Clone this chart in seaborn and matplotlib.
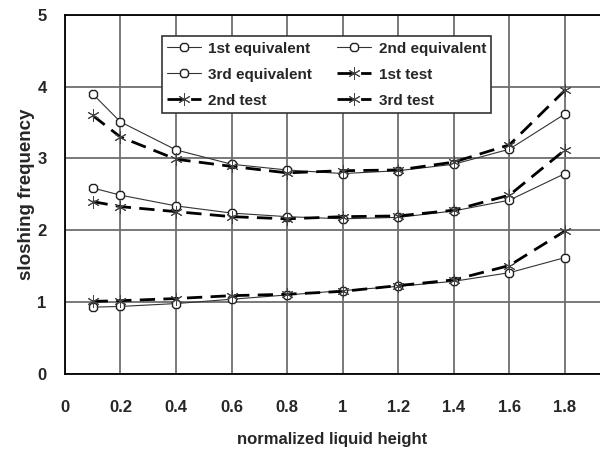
import matplotlib
matplotlib.use("Agg")
import matplotlib.pyplot as plt
import seaborn as sns
import pandas as pd

heights = [0.1, 0.2, 0.4, 0.6, 0.8, 1.0, 1.2, 1.4, 1.6, 1.8]
eq1 = [0.93, 0.94, 0.98, 1.04, 1.10, 1.16, 1.22, 1.29, 1.41, 1.62]
eq2 = [2.59, 2.49, 2.34, 2.24, 2.19, 2.16, 2.18, 2.27, 2.42, 2.79]
eq3 = [3.90, 3.51, 3.12, 2.92, 2.84, 2.79, 2.83, 2.92, 3.13, 3.62]
test1 = [1.01, 1.02, 1.05, 1.09, 1.11, 1.15, 1.23, 1.31, 1.51, 1.99]
test2 = [2.40, 2.33, 2.26, 2.19, 2.16, 2.19, 2.20, 2.28, 2.49, 3.12]
test3 = [3.60, 3.30, 2.99, 2.89, 2.80, 2.83, 2.84, 2.95, 3.19, 3.95]
xticks = [0, 0.2, 0.4, 0.6, 0.8, 1, 1.2, 1.4, 1.6, 1.8]
xticklabels = ["0", "0.2", "0.4", "0.6", "0.8", "1", "1.2", "1.4", "1.6", "1.8"]
yticks = [0, 1, 2, 3, 4, 5]

sns.set_style("white")
plt.rcParams['font.family'] = ['Liberation Sans', 'DejaVu Sans']
plt.rcParams['font.weight'] = 'bold'

fig = plt.figure(figsize=(6, 4.5), dpi=100)
ax = fig.add_axes([0.108, 0.169, 0.892, 0.798])

series = [
    ("1st equivalent", eq1, "eq"),
    ("2nd equivalent", eq2, "eq"),
    ("3rd equivalent", eq3, "eq"),
    ("1st test", test1, "test"),
    ("2nd test", test2, "test"),
    ("3rd test", test3, "test"),
]
handles = {}
for name, vals, kind in series:
    df = pd.DataFrame({"h": heights, "f": vals})
    if kind == "eq":
        sns.lineplot(data=df, x="h", y="f", ax=ax, color="#333333", lw=0.8,
                     marker="8", markersize=6, markerfacecolor="white",
                     markeredgecolor="#222222", markeredgewidth=1.0, label=name, zorder=4)
    else:
        sns.lineplot(data=df, x="h", y="f", ax=ax, color="black", lw=2.0,
                     dashes=False, marker=(6, 2, 0), markersize=9,
                     markeredgecolor="#444444", markeredgewidth=0.7, label=name, zorder=5)
        ax.get_lines()[-1].set_dashes([5.5, 3])
    handles[name] = ax.get_lines()[-1]

ax.set_xlim(0, 1.926)
ax.set_ylim(0, 5)
ax.set_xticks(xticks)
ax.set_xticklabels(xticklabels)
ax.set_yticks(yticks)
ax.tick_params(axis='both', labelsize=12, length=5, width=1.0, color='#555555', direction='out')
for lab in ax.get_xticklabels() + ax.get_yticklabels():
    lab.set_fontweight('bold')
ax.tick_params(axis='x', pad=14)
ax.tick_params(axis='y', pad=8)

ax.grid(True, color="#6e6e6e", lw=1.3, zorder=0)
ax.set_axisbelow(True)
for s in ["top", "left", "bottom"]:
    ax.spines[s].set_visible(True)
    ax.spines[s].set_color("black")
    ax.spines[s].set_linewidth(1.3)
ax.spines["right"].set_visible(False)

ax.set_xlabel("normalized liquid height", fontsize=12, fontweight='bold', labelpad=12)
ax.set_ylabel("sloshing frequency", fontsize=13.5, fontweight='bold', labelpad=2)

order = ["1st equivalent", "3rd equivalent", "2nd test",
         "2nd equivalent", "1st test", "3rd test"]
leg = ax.legend([handles[n] for n in order], order, ncol=2, loc="upper left",
                bbox_to_anchor=(0.181, 0.94), frameon=True, fancybox=False,
                edgecolor="#333333", framealpha=1, prop={'size': 11, 'weight': 'bold'},
                handlelength=2.2, columnspacing=1.65, handletextpad=0.5,
                labelspacing=0.78, borderpad=0.35, borderaxespad=0)
leg.get_frame().set_linewidth(1.2)

fig.savefig("out.png", dpi=100)
